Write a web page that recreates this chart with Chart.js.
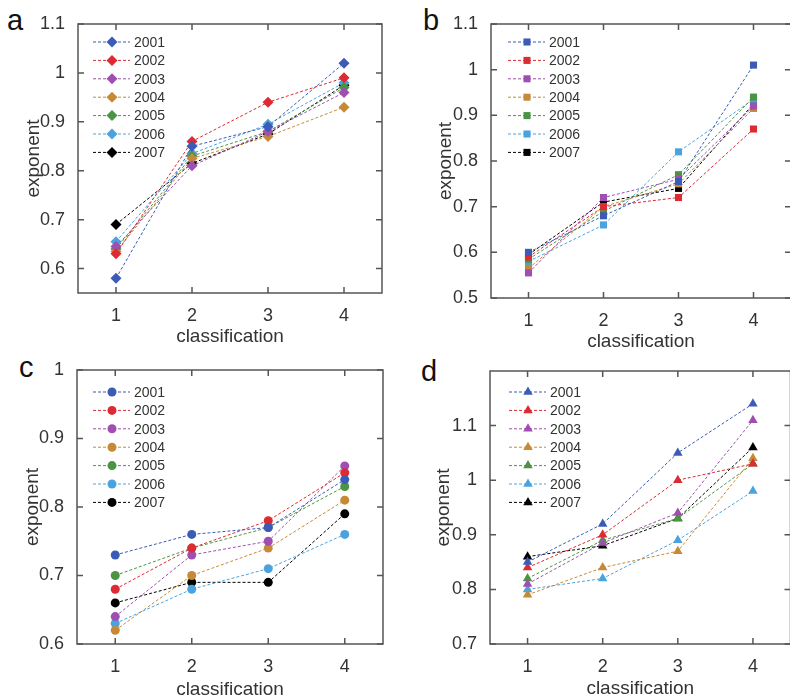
<!DOCTYPE html>
<html>
<head>
<meta charset="utf-8">
<script src="https://cdn.jsdelivr.net/npm/chart.js@4.4.1/dist/chart.umd.min.js"></script>
<style>
  body { margin: 0; width: 790px; height: 700px; overflow: hidden; background: #fff; position: relative; font-family: "Liberation Sans", Arial, sans-serif; }
  canvas { position: absolute; }
  .tag { position: absolute; font-size: 29px; color: #111; line-height: 1; }
</style>
</head>
<body>
<div class="tag" style="left:7px;top:6px;">a</div>
<div class="tag" style="left:423px;top:6px;">b</div>
<div class="tag" style="left:19px;top:353px;">c</div>
<div class="tag" style="left:421px;top:357px;">d</div>
<canvas id="panelA" style="left:0;top:0;"></canvas>
<canvas id="panelB" style="left:395px;top:0;"></canvas>
<canvas id="panelC" style="left:0;top:350px;"></canvas>
<canvas id="panelD" style="left:395px;top:350px;"></canvas>
<script>
const classes = ['1', '2', '3', '4'];
const years = ['2001', '2002', '2003', '2004', '2005', '2006', '2007'];
const yearColors = ['#3b5bb7', '#dc2b32', '#a04fb0', '#c68a36', '#4c9443', '#4aa3df', '#000000'];

// one row per year, one value per classification
const valuesA = [
  [0.58, 0.85, 0.89, 1.02],
  [0.63, 0.86, 0.94, 0.99],
  [0.645, 0.81, 0.88, 0.96],
  [0.635, 0.825, 0.87, 0.93],
  [0.64, 0.83, 0.88, 0.97],
  [0.655, 0.835, 0.895, 0.98],
  [0.69, 0.815, 0.875, 0.975]
];
const valuesB = [
  [0.60, 0.68, 0.755, 1.01],
  [0.59, 0.70, 0.72, 0.87],
  [0.555, 0.72, 0.76, 0.92],
  [0.565, 0.70, 0.75, 0.915],
  [0.585, 0.69, 0.77, 0.94],
  [0.58, 0.66, 0.82, 0.935],
  [0.595, 0.71, 0.74, 0.925]
];
const valuesC = [
  [0.73, 0.76, 0.77, 0.84],
  [0.68, 0.74, 0.78, 0.85],
  [0.64, 0.73, 0.75, 0.86],
  [0.62, 0.70, 0.74, 0.81],
  [0.70, 0.74, 0.77, 0.83],
  [0.63, 0.68, 0.71, 0.76],
  [0.66, 0.69, 0.69, 0.79]
];
const valuesD = [
  [0.85, 0.92, 1.05, 1.14],
  [0.84, 0.90, 1.00, 1.03],
  [0.81, 0.885, 0.94, 1.11],
  [0.79, 0.84, 0.87, 1.04],
  [0.82, 0.89, 0.93, 1.03],
  [0.80, 0.82, 0.89, 0.98],
  [0.86, 0.88, 0.93, 1.06]
];

const ticksA = [0.6, 0.7, 0.8, 0.9, 1, 1.1];
const ticksB = [0.5, 0.6, 0.7, 0.8, 0.9, 1, 1.1];
const ticksC = [0.6, 0.7, 0.8, 0.9, 1];
const ticksD = [0.7, 0.8, 0.9, 1, 1.1];

const TEXT = '#333';
const FRAME = '#555';

// box round the plot with short inward ticks on all four sides
const framePlugin = {
  id: 'frame',
  beforeDatasetsDraw(chart) {
    const { ctx, chartArea: { left, top, right, bottom }, scales: { x, y } } = chart;
    const len = 6;
    ctx.save();
    ctx.strokeStyle = FRAME;
    ctx.lineWidth = 1.5;
    ctx.strokeRect(left, top, right - left, bottom - top);
    ctx.beginPath();
    x.ticks.forEach((t, i) => {
      const px = x.getPixelForTick(i);
      ctx.moveTo(px, bottom); ctx.lineTo(px, bottom - len);
      ctx.moveTo(px, top); ctx.lineTo(px, top + len);
    });
    y.ticks.forEach((t) => {
      const py = y.getPixelForValue(t.value);
      ctx.moveTo(left, py); ctx.lineTo(left + len, py);
      ctx.moveTo(right, py); ctx.lineTo(right - len, py);
    });
    ctx.stroke();
    ctx.restore();
  }
};

// legend in the top-left corner: dashed line with the marker on it
const yearLegend = {
  id: 'yearLegend',
  afterDatasetsDraw(chart, args, opts) {
    const { ctx, chartArea } = chart;
    ctx.save();
    ctx.font = '14px "Liberation Sans", Arial, sans-serif';
    ctx.textBaseline = 'middle';
    chart.data.datasets.forEach((ds, i) => {
      const y = chartArea.top + opts.top + i * 18.4;
      const x0 = chartArea.left + opts.left;
      ctx.strokeStyle = ds.borderColor;
      ctx.lineWidth = 1;
      ctx.setLineDash([3, 2]);
      ctx.beginPath();
      ctx.moveTo(x0, y);
      ctx.lineTo(x0 + 37, y);
      ctx.stroke();
      ctx.setLineDash([]);
      ctx.fillStyle = ds.backgroundColor;
      Chart.helpers.drawPoint(ctx, { pointStyle: ds.pointStyle, radius: ds.pointRadius, rotation: 0, borderWidth: 0 }, x0 + 19, y);
      ctx.fillStyle = TEXT;
      ctx.fillText(ds.label, x0 + 41, y + 1);
    });
    ctx.restore();
  }
};

function makePanel(id, cfg) {
  const canvas = document.getElementById(id);
  canvas.width = cfg.w;
  canvas.height = cfg.h;
  canvas.style.width = cfg.w + 'px';
  canvas.style.height = cfg.h + 'px';

  const datasets = cfg.values.map((row, i) => ({
    label: years[i],
    data: row,
    borderColor: yearColors[i],
    backgroundColor: yearColors[i],
    borderWidth: 1,
    borderDash: [3, 2],
    pointStyle: cfg.marker,
    pointRadius: cfg.radius,
    pointBorderWidth: 0,
    pointHoverRadius: cfg.radius,
    tension: 0,
    clip: false
  }));

  return new Chart(canvas, {
    type: 'line',
    data: { labels: classes, datasets },
    options: {
      responsive: false,
      animation: false,
      layout: { padding: { left: cfg.padLeft, top: cfg.area.top, right: cfg.w - cfg.area.right, bottom: 0 } },
      plugins: {
        legend: { display: false },
        tooltip: { enabled: false },
        yearLegend: { top: cfg.legendTop, left: cfg.legendLeft }
      },
      scales: {
        x: {
          type: 'category',
          offset: true,
          grid: { display: false, offset: false },
          border: { display: false },
          ticks: { color: TEXT, padding: 4, font: { size: 18, family: '"Liberation Sans", Arial, sans-serif' } },
          title: {
            display: true,
            text: 'classification',
            color: TEXT,
            padding: { top: 0, bottom: cfg.xTitlePad },
            font: { size: 19, family: '"Liberation Sans", Arial, sans-serif' }
          },
          afterFit: (scale) => { scale.height = cfg.h - cfg.area.bottom; }
        },
        y: {
          min: cfg.yMin,
          max: cfg.yMax,
          grid: { display: false },
          border: { display: false },
          afterBuildTicks: (scale) => { scale.ticks = cfg.ticks.map((v) => ({ value: v })); },
          ticks: {
            color: TEXT,
            padding: 5,
            font: { size: 18, family: '"Liberation Sans", Arial, sans-serif' },
            callback: (v) => String(v)
          },
          title: {
            display: true,
            text: 'exponent',
            color: TEXT,
            padding: 0,
            font: { size: 19, family: '"Liberation Sans", Arial, sans-serif' }
          },
          afterFit: (scale) => { scale.width = cfg.area.left - cfg.padLeft; }
        }
      }
    },
    plugins: [framePlugin, yearLegend]
  });
}

makePanel('panelA', {
  w: 395, h: 350, values: valuesA, marker: 'rectRot', radius: 5.5,
  yMin: 0.55, yMax: 1.1, ticks: ticksA,
  area: { left: 78, top: 24, right: 382, bottom: 293 },
  padLeft: 22, xTitlePad: 2, legendTop: 18, legendLeft: 15
});
makePanel('panelB', {
  w: 401, h: 350, values: valuesB, marker: 'rect', radius: 5,
  yMin: 0.5, yMax: 1.1, ticks: ticksB,
  area: { left: 96, top: 24, right: 401, bottom: 298 },
  padLeft: 39, xTitlePad: -3, legendTop: 18, legendLeft: 17
});
makePanel('panelC', {
  w: 395, h: 350, values: valuesC, marker: 'circle', radius: 4.5,
  yMin: 0.6, yMax: 1.0, ticks: ticksC,
  area: { left: 77, top: 20, right: 383, bottom: 294 },
  padLeft: 21, xTitlePad: -1, legendTop: 22, legendLeft: 16
});
makePanel('panelD', {
  w: 401, h: 350, values: valuesD, marker: 'triangle', radius: 5.5,
  yMin: 0.7, yMax: 1.2, ticks: ticksD,
  area: { left: 95, top: 21, right: 401, bottom: 294 },
  padLeft: 37, xTitlePad: 0, legendTop: 21, legendLeft: 19
});
</script>
</body>
</html>
